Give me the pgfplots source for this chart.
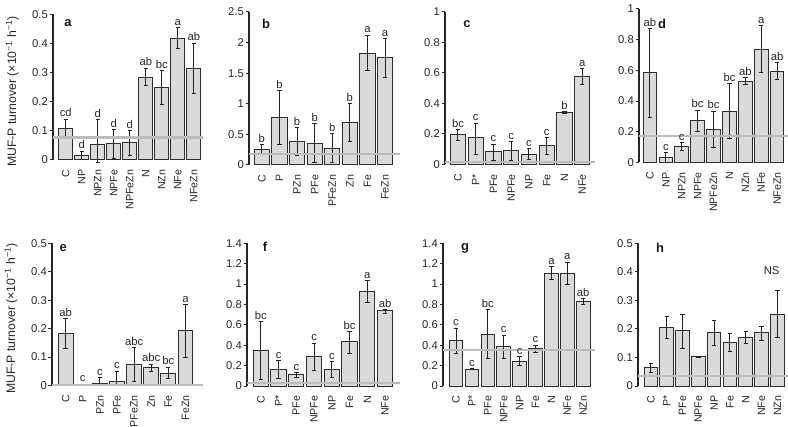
\documentclass[border=0pt]{standalone}
\usepackage{fontspec}
\setmainfont{Liberation Sans}
\usepackage{pgfplots}
\usepackage{pgfplotstable}
\pgfplotsset{compat=1.18}
\definecolor{barfill}{RGB}{218,218,218}
\definecolor{baredge}{RGB}{45,45,45}
\definecolor{errc}{RGB}{35,35,35}
\definecolor{grayline}{RGB}{188,188,188}
\newcommand{\lf}{\fontsize{11.3}{13}\selectfont}
\newcommand{\xf}{\fontsize{10.7}{12}\selectfont}

\pgfplotstableread{
x y ep em lab
0 0.108 0.032 0.035 cd
1 0.016 0.014 0.016 d
2 0.052 0.087 0.060 d
3 0.056 0.048 0.052 d
4 0.059 0.043 0.043 d
5 0.285 0.031 0.030 ab
6 0.250 0.056 0.059 bc
7 0.419 0.035 0.037 a
8 0.316 0.086 0.087 ab
}\tabA
\pgfplotstableread{
x y ep em lab
0 0.260 0.077 0.087 b
1 0.780 0.440 0.445 b
2 0.390 0.225 0.228 b
3 0.359 0.321 0.322 b
4 0.266 0.250 0.229 b
5 0.697 0.300 0.307 b
6 1.826 0.294 0.290 a
7 1.755 0.315 0.327 a
}\tabB
\pgfplotstableread{
x y ep em lab
0 0.197 0.032 0.038 bc
1 0.176 0.094 0.108 c
2 0.087 0.046 0.059 c
3 0.094 0.054 0.066 c
4 0.068 0.037 0.035 c
5 0.122 0.053 0.056 c
6 0.343 0.004 0.007 b
7 0.579 0.050 0.053 a
}\tabC
\pgfplotstableread{
x y ep em lab
0 0.589 0.283 0.293 ab
1 0.030 0.033 0.030 c
2 0.104 0.024 0.026 c
3 0.276 0.065 0.072 bc
4 0.215 0.120 0.119 bc
5 0.335 0.180 0.181 bc
6 0.530 0.022 0.021 ab
7 0.737 0.156 0.152 a
8 0.596 0.054 0.055 ab
}\tabD
\pgfplotstableread{
x y ep em lab
0 0.182 0.053 0.052 ab
1 0.002 0.003 0.002 c
2 0.007 0.021 0.007 c
3 0.015 0.035 0.015 c
4 0.074 0.059 0.061 abc
5 0.065 0.010 0.014 abc
6 0.044 0.021 0.019 bc
7 0.194 0.090 0.094 a
}\tabE
\pgfplotstableread{
x y ep em lab
0 0.347 0.284 0.288 bc
1 0.164 0.085 0.089 c
2 0.115 0.019 0.030 c
3 0.288 0.131 0.138 c
4 0.164 0.075 0.082 c
5 0.432 0.098 0.112 bc
6 0.926 0.108 0.108 a
7 0.736 0.016 0.023 ab
}\tabF
\pgfplotstableread{
x y ep em lab
0 0.442 0.124 0.128 c
1 0.164 0.009 0.007 c
2 0.510 0.236 0.238 bc
3 0.386 0.114 0.121 c
4 0.245 0.043 0.039 c
5 0.370 0.032 0.043 c
6 1.106 0.065 0.066 a
7 1.106 0.108 0.115 a
8 0.828 0.032 0.033 ab
}\tabG
\pgfplotstableread{
x y ep em
0 0.064 0.015 0.017
1 0.205 0.037 0.039
2 0.193 0.058 0.062
3 0.102 0.003 0.002
4 0.187 0.043 0.044
5 0.152 0.032 0.030
6 0.169 0.021 0.020
7 0.186 0.024 0.026
8 0.251 0.084 0.082
}\tabH

\tikzset{plet/.style={font=\bfseries\fontsize{13}{15}\selectfont, color=black!90}}
\pgfplotsset{
  panel/.style={
    scale only axis, anchor=south west, ymin=0, clip=false,
    axis y line*=left, axis x line*=bottom,
    x axis line style={draw=none},
    y axis line style={line width=1.1bp, color=black!85},
    xtick style={draw=none},
    ytick style={line width=1bp, color=black!85},
    tick align=outside, major tick length=3.5bp,
    tick label style={font=\lf, color=black!85},
    xticklabel style={rotate=90, anchor=east, inner sep=1bp, font=\xf},
    yticklabel style={inner sep=1.5bp},
    xticklabel shift=5bp,
    /pgf/number format/assume math mode=true,
  },
  barsty/.style={ybar, bar width=0.86, fill=barfill, draw=baredge, line width=1bp,
    error bars/.cd, y dir=both, y explicit,
    error bar style={line width=1bp, color=errc},
    error mark options={rotate=90, mark size=2.2bp, line width=1bp, color=errc}},
  labsty/.style={only marks, mark=none, nodes near coords, point meta=explicit symbolic,
    nodes near coords style={anchor=south, inner sep=2bp, font=\lf, color=black!85}},
  glsty/.style={color=grayline, line width=2.3bp},
  ylab/.style={ylabel={MUF-P turnover (×10\textsuperscript{−1} h\textsuperscript{−1})},
    ylabel style={at={(axis description cs:-0.27,0.47)}, anchor=center, font=\fontsize{12.3}{14}\selectfont, color=black!85}},
}

\begin{document}
\begin{tikzpicture}
\useasboundingbox (0,0) rectangle (788bp,427bp);

% ---- a ----
\begin{axis}[panel, ylab, at={(53bp,267bp)}, width=150.4bp, height=145.5bp,
  xmin=-0.8, xmax=8.6, ymax=0.5, ytick={0,0.1,...,0.5},
  xtick={0,...,8}, xticklabels={C,NP,NPZn,NPFe,NPFeZn,N,NZn,NFe,NFeZn}]
\addplot[barsty] table[x=x, y=y, y error plus=ep, y error minus=em] {\tabA};
\addplot[glsty] coordinates {(-0.8,0.077) (8.6,0.077)};
\addplot[labsty] table[x=x, y expr=\thisrow{y}+\thisrow{ep}, meta=lab] {\tabA};
\node[plet] at (axis description cs:0.1,0.94) {a};
\end{axis}

% ---- b ----
\begin{axis}[panel, at={(249bp,262bp)}, width=151bp, height=153bp,
  xmin=-0.73, xmax=7.85, ymax=2.5, ytick={0,0.5,...,2.5},
  xtick={0,...,7}, xticklabels={C,P,PZn,PFe,PFeZn,Zn,Fe,FeZn}]
\addplot[barsty] table[x=x, y=y, y error plus=ep, y error minus=em] {\tabB};
\addplot[glsty] coordinates {(-0.73,0.175) (7.85,0.175)};
\addplot[labsty] table[x=x, y expr=\thisrow{y}+\thisrow{ep}, meta=lab] {\tabB};
\node[plet] at (axis description cs:0.113,0.92) {b};
\end{axis}

% ---- c ----
\begin{axis}[panel, at={(445bp,262.5bp)}, width=150.2bp, height=152.8bp,
  xmin=-0.73, xmax=7.73, ymax=1, ytick={0,0.2,...,1},
  xtick={0,...,7}, xticklabels={C,P*,PFe,NPFe,NP,Fe,N,NFe}]
\addplot[barsty] table[x=x, y=y, y error plus=ep, y error minus=em] {\tabC};
\addplot[glsty] coordinates {(-0.73,0.017) (7.73,0.017)};
\addplot[labsty] table[x=x, y expr=\thisrow{y}+\thisrow{ep}, meta=lab] {\tabC};
\node[plet] at (axis description cs:0.146,0.92) {c};
\end{axis}

% ---- d ----
\begin{axis}[panel, at={(639bp,264.5bp)}, width=149.1bp, height=153.5bp,
  xmin=-0.69, xmax=8.69, ymax=1, ytick={0,0.2,...,1},
  xtick={0,...,8}, xticklabels={C,NP,NPZn,NPFe,NPFeZn,N,NZn,NFe,NFeZn}]
\addplot[barsty] table[x=x, y=y, y error plus=ep, y error minus=em] {\tabD};
\addplot[glsty] coordinates {(-0.69,0.172) (8.69,0.172)};
\addplot[labsty] table[x=x, y expr=\thisrow{y}+\thisrow{ep}, meta=lab] {\tabD};
\node[plet] at (axis description cs:0.154,0.9) {d};
\end{axis}

% ---- e ----
\begin{axis}[panel, ylab, at={(52bp,41.5bp)}, width=151bp, height=142bp,
  xmin=-0.8, xmax=8.03, ymax=0.5, ytick={0,0.1,...,0.5},
  xtick={0,...,7}, xticklabels={C,P,PZn,PFe,PFeZn,Zn,Fe,FeZn}]
\addplot[barsty] table[x=x, y=y, y error plus=ep, y error minus=em] {\tabE};
\addplot[glsty] coordinates {(-0.8,0.001) (8.03,0.001)};
\addplot[labsty] table[x=x, y expr=\thisrow{y}+\thisrow{ep}, meta=lab] {\tabE};
\node[plet] at (axis description cs:0.075,0.967) {e};
\end{axis}

% ---- f ----
\begin{axis}[panel, at={(247bp,41bp)}, width=153bp, height=142.7bp,
  xmin=-0.78, xmax=7.84, ymax=1.4, ytick={0,0.2,...,1.4},
  xtick={0,...,7}, xticklabels={C,P*,PFe,NPFe,NP,Fe,N,NFe}]
\addplot[barsty] table[x=x, y=y, y error plus=ep, y error minus=em] {\tabF};
\addplot[glsty] coordinates {(-0.78,0.026) (7.84,0.026)};
\addplot[labsty] table[x=x, y expr=\thisrow{y}+\thisrow{ep}, meta=lab] {\tabF};
\node[plet] at (axis description cs:0.118,0.975) {f};
\end{axis}

% ---- g ----
\begin{axis}[panel, at={(443bp,41bp)}, width=152bp, height=142.7bp,
  xmin=-0.82, xmax=8.74, ymax=1.4, ytick={0,0.2,...,1.4},
  xtick={0,...,8}, xticklabels={C,P*,PFe,NPFe,NP,Fe,N,NFe,NZn}]
\addplot[barsty] table[x=x, y=y, y error plus=ep, y error minus=em] {\tabG};
\addplot[glsty] coordinates {(-0.82,0.353) (8.74,0.353)};
\addplot[labsty] table[x=x, y expr=\thisrow{y}+\thisrow{ep}, meta=lab] {\tabG};
\node[plet] at (axis description cs:0.145,0.967) {g};
\end{axis}

% ---- h ----
\begin{axis}[panel, at={(638bp,41bp)}, width=150.1bp, height=142.7bp,
  xmin=-0.82, xmax=8.68, ymax=0.5, ytick={0,0.1,...,0.5},
  xtick={0,...,8}, xticklabels={C,P*,PFe,NPFe,NP,Fe,N,NFe,NZn}]
\addplot[barsty] table[x=x, y=y, y error plus=ep, y error minus=em] {\tabH};
\addplot[glsty] coordinates {(-0.82,0.036) (8.68,0.036)};
\node[font=\lf, color=black!85] at (axis cs:7.64,0.403) {NS};
\node[plet] at (axis description cs:0.147,0.967) {h};
\end{axis}

\end{tikzpicture}
\end{document}
